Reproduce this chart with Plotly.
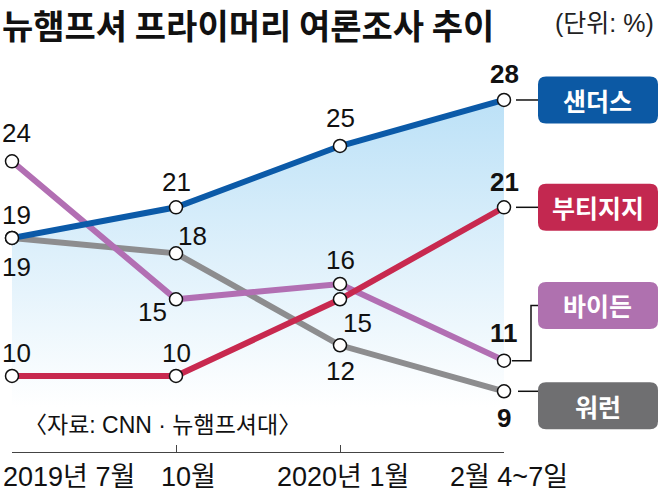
import plotly.graph_objects as go

# 뉴햄프셔 프라이머리 여론조사 추이 (단위: %)
periods = ["2019년 7월", "10월", "2020년 1월", "2월 4~7일"]
names = ["샌더스", "부티지지", "바이든", "워런"]
sanders = [19, 21, 25, 28]
buttigieg = [10, 10, 15, 21]
biden = [24, 15, 16, 11]
warren = [19, 18, 12, 9]

colors = {"샌더스": "#0b5aa8", "부티지지": "#c8294f", "바이든": "#b26fb3", "워런": "#8d8d8f"}
box_colors = {"샌더스": "#0c59a4", "부티지지": "#c32850", "바이든": "#af71af", "워런": "#6f6f71"}

NUM = "Liberation Sans, Noto Sans CJK KR, sans-serif"
KR = "Noto Sans CJK KR, sans-serif"

# plot area in pixels
L, T, W, H = 12, 54, 492, 398
def px(x):
    return (x - L) / W
def py(y):
    return (T + H - y) / H

x = list(range(len(periods)))
series = {"샌더스": sanders, "부티지지": buttigieg, "바이든": biden, "워런": warren}

fig = go.Figure()

# light blue gradient under the Sanders line
fig.add_trace(go.Scatter(
    x=x, y=sanders, mode="none", fill="tozeroy",
    fillgradient=dict(type="vertical", colorscale=[[0, "rgba(255,255,255,1)"], [1, "#bce1f7"]],
                      start=8, stop=28),
    hoverinfo="skip", showlegend=False))

for nm in ["워런", "바이든", "부티지지", "샌더스"]:
    fig.add_trace(go.Scatter(
        x=x, y=series[nm], mode="lines+markers", cliponaxis=False,
        line=dict(color=colors[nm], width=6),
        marker=dict(size=13, color="white", line=dict(color="#111", width=1.5)),
        showlegend=False, name=nm))

# value labels: (xshift, yshift) per point
offsets = {
    "샌더스": [(4, 23), (0, 25), (0, 28), (0, 26)],
    "부티지지": [(4, 23), (0, 23), (17, -24), (0, 25)],
    "바이든": [(4, 28), (-24, -13), (0, 24), (0, 28)],
    "워런": [(4, -29), (16, 17), (0, -26), (0, -27)],
}
for nm, vals in series.items():
    for i, v in enumerate(vals):
        dx, dy = offsets[nm][i]
        last = i == len(vals) - 1
        fig.add_annotation(x=i, y=v, xref="x", yref="y", text=f"<b>{v}</b>" if last else str(v),
                           showarrow=False, xshift=dx, yshift=dy,
                           xanchor="center", yanchor="middle",
                           font=dict(family=NUM, size=26, color="#111"))

# name boxes at the right
box_y = {"샌더스": sanders[-1], "부티지지": buttigieg[-1], "바이든": 14.6, "워런": 8.05}
hh = 23.5 / 15.33
rx, ry = 8 / W, 8 / 15.33
bx0, bx1 = px(538), px(658)
for nm, yc in box_y.items():
    y0, y1 = yc - hh, yc + hh
    path = (f"M {bx0+rx},{y0} L {bx1-rx},{y0} Q {bx1},{y0} {bx1},{y0+ry} "
            f"L {bx1},{y1-ry} Q {bx1},{y1} {bx1-rx},{y1} L {bx0+rx},{y1} "
            f"Q {bx0},{y1} {bx0},{y1-ry} L {bx0},{y0+ry} Q {bx0},{y0} {bx0+rx},{y0} Z")
    fig.add_shape(type="path", path=path, xref="paper", yref="y",
                  fillcolor=box_colors[nm], line=dict(width=0))
    fig.add_annotation(x=(bx0 + bx1) / 2, y=yc, xref="paper", yref="y", text=f"<b>{nm}</b>",
                       showarrow=False, xanchor="center", yanchor="middle",
                       font=dict(family=KR, size=25, color="white"))

# connectors
conn = dict(color="#111", width=1.5)
fig.add_shape(type="line", xref="paper", yref="y", x0=px(516), x1=bx0,
              y0=sanders[-1], y1=sanders[-1], line=conn)
fig.add_shape(type="line", xref="paper", yref="y", x0=px(516), x1=bx0,
              y0=buttigieg[-1], y1=buttigieg[-1], line=conn)
fig.add_shape(type="path", xref="paper", yref="y", line=conn,
              path=f"M {px(512)},{biden[-1]} L {px(531)},{biden[-1]} L {px(531)},{box_y['바이든']} L {bx0},{box_y['바이든']}")
fig.add_shape(type="line", xref="paper", yref="y", x0=px(518), x1=bx0,
              y0=warren[-1], y1=warren[-1], line=conn)

# x labels
label_shift = [-11, 12, 3, 5]
for i, p in enumerate(periods):
    fig.add_annotation(x=i, y=py(477), xref="x", yref="paper", text=p, showarrow=False,
                       xanchor="left" if i == 0 else "center", yanchor="middle",
                       xshift=label_shift[i],
                       font=dict(family=NUM, size=27, color="#111"))

# title, unit and source
fig.add_annotation(x=px(0), y=py(24), xref="paper", yref="paper", xanchor="left", yanchor="middle",
                   text="<b>뉴햄프셔 프라이머리 여론조사 추이</b>", showarrow=False,
                   font=dict(family=KR, size=34, color="#111"))
fig.add_annotation(x=px(656), y=py(23), xref="paper", yref="paper", xanchor="right", yanchor="middle",
                   text="(단위: %)", showarrow=False,
                   font=dict(family=NUM, size=25, color="#222"))
fig.add_annotation(x=px(22), y=py(425), xref="paper", yref="paper", xanchor="left", yanchor="middle",
                   text="〈자료: CNN · 뉴햄프셔대〉", showarrow=False,
                   font=dict(family=NUM, size=23, color="#111"))

fig.update_xaxes(range=[0, 3], tickvals=x, showticklabels=False, showgrid=False, zeroline=False,
                 showline=True, linecolor="#444", linewidth=1.2, ticks="inside", ticklen=7,
                 tickcolor="#444", tickwidth=1.2)
fig.update_yaxes(range=[5.04, 31], visible=False)
fig.update_layout(width=660, height=495, margin=dict(l=L, r=660 - L - W, t=T, b=495 - T - H),
                  plot_bgcolor="white", paper_bgcolor="white", showlegend=False)

fig.write_html("out.html", config={"displayModeBar": False},
               post_script="document.body.style.margin='0';")
